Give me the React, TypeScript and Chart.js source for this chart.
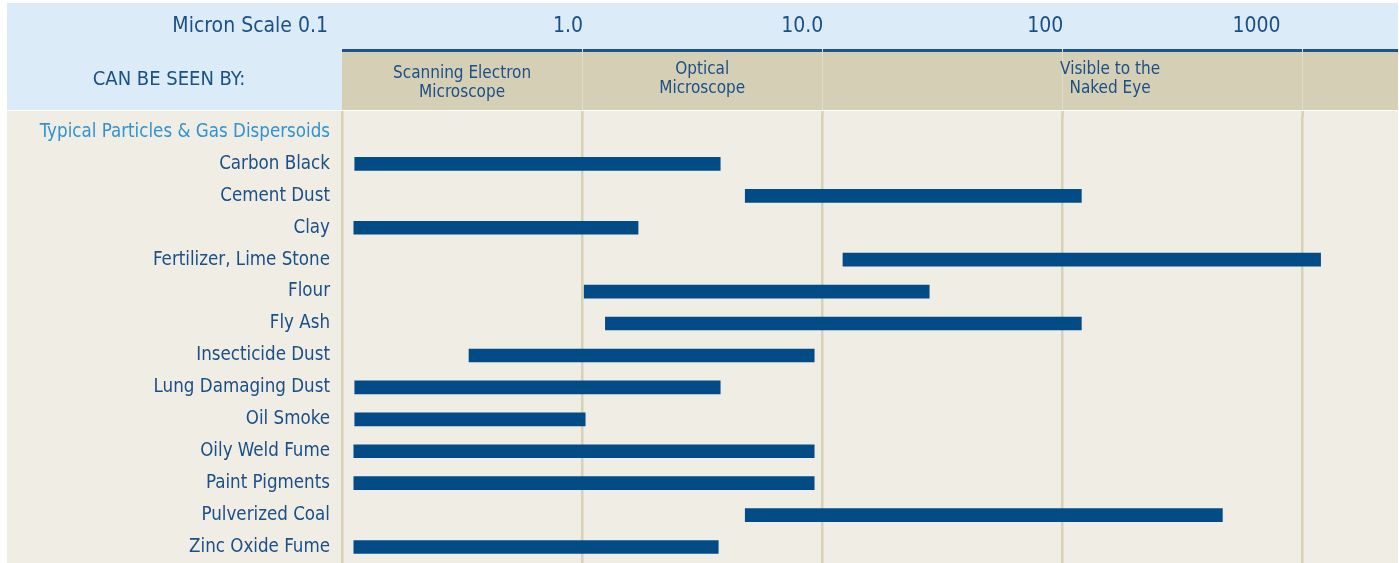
import React, { useEffect, useRef } from "react";
import { Chart, registerables } from "chart.js";

Chart.register(...registerables);

// ---- data ----
const categories = [
  "Typical Particles & Gas Dispersoids",
  "Carbon Black",
  "Cement Dust",
  "Clay",
  "Fertilizer, Lime Stone",
  "Flour",
  "Fly Ash",
  "Insecticide Dust",
  "Lung Damaging Dust",
  "Oil Smoke",
  "Oily Weld Fume",
  "Paint Pigments",
  "Pulverized Coal",
  "Zinc Oxide Fume",
];
// particle size range in microns (start, end)
const rangeStart = [null, 0.113, 4.78, 0.112, 12.2, 1.02, 1.25, 0.338, 0.113, 0.113, 0.112, 0.112, 4.78, 0.112];
const rangeEnd = [null, 3.76, 120, 1.71, 1190, 27.9, 120, 9.26, 3.76, 1.03, 9.26, 9.26, 464, 3.69];

const scaleTicks = [0.1, 1, 10, 100, 1000];
const scaleTickLabels = ["0.1", "1.0", "10.0", "100", "1000"];
const scaleTitle = "Micron Scale";
const seenByTitle = "CAN BE SEEN BY:";
const seenByLabels = [["Scanning Electron", "Microscope"], ["Optical", "Microscope"], ["Visible to the", "Naked Eye"]];
const seenByFrom = [0.1, 1, 10];
const seenByTo = [1, 10, 2500];
const scaleMin = 0.1;
const scaleMax = 2500;

// ---- style ----
const FONT = '"DejaVu Sans Condensed", "Liberation Sans Narrow", sans-serif';
const DARK = "#1b4f86";
const LIGHT = "#2f93d1";
const BAR = "#014c87";
const HEADER_BG = "#dbecf8";
const BAND_BG = "#d5cfb6";
const BODY_BG = "#f0ede5";
const GRID = "#d8d1b7";

const backgroundPlugin = {
  id: "micronBackground",
  beforeDraw(chart: any) {
    const { ctx, width, height } = chart;
    const xs = chart.scales.x;
    const left = xs.left;
    const right = 1398;
    ctx.save();
    ctx.fillStyle = "#ffffff";
    ctx.fillRect(0, 0, width, height);
    // header
    ctx.fillStyle = HEADER_BG;
    ctx.fillRect(7, 3, right - 7, 107);
    // seen-by band
    ctx.fillStyle = BAND_BG;
    ctx.fillRect(left, 49, right - left, 61);
    ctx.fillStyle = "#1c548c";
    ctx.fillRect(left, 49, right - left, 3);
    // body
    ctx.fillStyle = BODY_BG;
    ctx.fillRect(7, 111, right - 7, height - 111);
    // light grid lines across band
    ctx.fillStyle = "#e2dccb";
    scaleTicks.forEach((v, i) => {
      if (i === 0) return;
      const px = Math.round(xs.getPixelForValue(v));
      ctx.fillRect(px, 49, 1, 61);
    });
    // grid extension in body above chart area
    ctx.fillStyle = GRID;
    scaleTicks.forEach((v) => {
      const px = xs.getPixelForValue(v);
      ctx.fillRect(px - 1, 111, 2.5, chart.chartArea.top - 111 + 1);
    });

    // header texts
    ctx.fillStyle = DARK;
    ctx.textBaseline = "middle";
    ctx.font = `21px ${FONT}`;
    ctx.textAlign = "right";
    ctx.fillText(`${scaleTitle} ${scaleTickLabels[0]}`, 328, 27);
    scaleTicks.forEach((v, i) => {
      if (i === 0) return;
      const px = xs.getPixelForValue(v);
      const nudge = i === scaleTicks.length - 1 ? 23 : 0;
      ctx.fillText(scaleTickLabels[i], px + 1 - nudge, 27);
    });
    ctx.textAlign = "center";
    ctx.font = `20px ${FONT}`;
    ctx.fillText(seenByTitle, 169, 80);
    ctx.font = `17px ${FONT}`;
    seenByLabels.forEach((lines, i) => {
      const mid = Math.sqrt(seenByFrom[i] * seenByTo[i]);
      const px = xs.getPixelForValue(mid);
      const y0 = i === 0 ? 74 : 70;
      lines.forEach((t, j) => ctx.fillText(t, px, y0 + j * 18.5));
    });
    ctx.restore();
  },
};

export default function App() {
  const ref = useRef<HTMLCanvasElement | null>(null);
  useEffect(() => {
    if (!ref.current) return;
    const data = categories.map((_, i) =>
      rangeStart[i] == null ? null : [rangeStart[i] as number, rangeEnd[i] as number]
    );
    const chart = new Chart(ref.current, {
      type: "bar",
      data: {
        labels: categories,
        datasets: [
          {
            data: data as any,
            backgroundColor: BAR,
            borderWidth: 0,
            borderSkipped: false,
            barThickness: 13,
          },
        ],
      },
      options: {
        indexAxis: "y",
        responsive: false,
        animation: false,
        layout: { padding: { left: 0, top: 116, right: 1, bottom: 0 } },
        plugins: { legend: { display: false }, tooltip: { enabled: false } },
        scales: {
          x: {
            type: "logarithmic",
            min: scaleMin,
            max: scaleMax,
            position: "bottom",
            afterBuildTicks: (s: any) => {
              s.ticks = scaleTicks.map((v) => ({ value: v }));
            },
            afterFit: (s: any) => {
              s.height = 0;
              s.paddingLeft = 0;
              s.paddingRight = 0;
            },
            ticks: { display: false },
            grid: { color: GRID, lineWidth: 2.5, drawTicks: false },
            border: { display: false },
          },
          y: {
            type: "category",
            afterFit: (s: any) => {
              s.width = 342;
              s.paddingTop = 0;
              s.paddingBottom = 0;
            },
            ticks: {
              padding: 12,
              font: { family: FONT, size: 18.6 },
              color: (c: any) => (c.index === 0 ? LIGHT : DARK),
              autoSkip: false,
            },
            grid: { display: false, drawTicks: false },
            border: { display: false },
          },
        },
      },
      plugins: [backgroundPlugin],
    });
    return () => chart.destroy();
  }, []);
  return (
    <div style={{ position: "absolute", left: 0, top: 0, width: 1399, height: 563 }}>
      <canvas ref={ref} width={1399} height={563} style={{ width: 1399, height: 563, display: "block" }} />
    </div>
  );
}
